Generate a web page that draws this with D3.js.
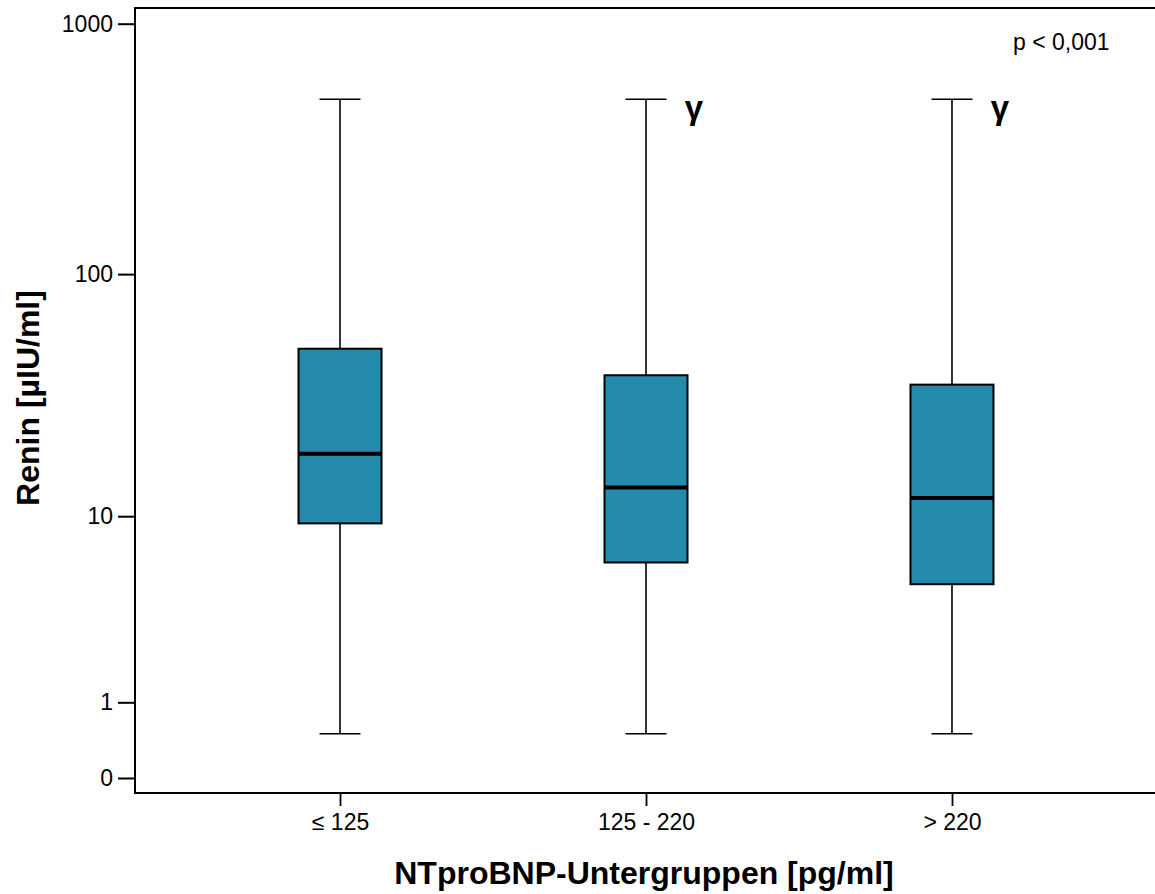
<!DOCTYPE html>
<html>
<head>
<meta charset="utf-8">
<script src="https://cdn.jsdelivr.net/npm/d3@7"></script>
<style>
body { margin: 0; background: #fff; }
text { font-family: "Liberation Sans", Arial, sans-serif; fill: #000; }
</style>
</head>
<body>
<svg></svg>
<script>
var screen = {width: 1155, height: 894};
var frame = {top: 8, right: 1157, bottom: 793, left: 135};

// data
var groups = ["≤ 125", "125 - 220", "> 220"];
var whiskerLow = [0.5, 0.5, 0.5];
var q1 = [9.3, 6.2, 4.9];
var median = [18.5, 13.3, 12.0];
var q3 = [50, 39, 35.7];
var whiskerHigh = [500, 500, 500];
var marks = ["", "γ", "γ"];
var yTicks = [0, 1, 10, 100, 1000];

var svg = d3.select("svg")
    .attr("width", screen.width)
    .attr("height", screen.height);

var xScale = d3.scalePoint()
    .domain(groups)
    .range([frame.left, frame.right])
    .padding(0.67);

var yScale = d3.scaleSymlog()
    .constant(1)
    .domain([0, 1000])
    .range([778, 23.7]);

var boxes = groups.map(function(g, i)
{
    return {g: g, lo: whiskerLow[i], q1: q1[i], med: median[i], q3: q3[i], hi: whiskerHigh[i], mark: marks[i]};
});

var boxWidth = 83;
var capWidth = 41;

// axes
var xAxis = d3.axisBottom(xScale).tickSize(13).tickSizeOuter(0).tickPadding(8);
var yAxis = d3.axisLeft(yScale).tickValues(yTicks).tickFormat(d3.format("d")).tickSize(17).tickSizeOuter(0).tickPadding(5);

var gx = svg.append("g")
    .attr("transform", "translate(0," + frame.bottom + ")")
    .call(xAxis);
gx.select(".domain").remove();
gx.selectAll("line").attr("stroke", "#000").attr("stroke-width", 1.8);
gx.selectAll("text").attr("font-size", 23).attr("font-family", "Liberation Sans, Arial, sans-serif").attr("fill", "#000");

var gy = svg.append("g")
    .attr("transform", "translate(" + frame.left + ",0)")
    .call(yAxis);
gy.select(".domain").remove();
gy.selectAll("line").attr("stroke", "#000").attr("stroke-width", 2);
gy.selectAll("text").attr("font-size", 23).attr("font-family", "Liberation Sans, Arial, sans-serif").attr("fill", "#000");

// frame
svg.append("rect")
    .attr("x", frame.left)
    .attr("y", frame.top)
    .attr("width", frame.right - frame.left)
    .attr("height", frame.bottom - frame.top)
    .attr("fill", "none")
    .attr("stroke", "#000")
    .attr("stroke-width", 2);

var bx = svg.append("g").selectAll("g")
    .data(boxes)
    .enter()
    .append("g");

// whiskers
bx.append("line")
    .attr("x1", function(d){return xScale(d.g);})
    .attr("x2", function(d){return xScale(d.g);})
    .attr("y1", function(d){return yScale(d.hi);})
    .attr("y2", function(d){return yScale(d.lo);})
    .attr("stroke", "#000")
    .attr("stroke-width", 1.6);

bx.selectAll(".cap")
    .data(function(d){return [{g: d.g, v: d.hi}, {g: d.g, v: d.lo}];})
    .enter()
    .append("line")
    .attr("class", "cap")
    .attr("x1", function(d){return xScale(d.g) - capWidth / 2;})
    .attr("x2", function(d){return xScale(d.g) + capWidth / 2;})
    .attr("y1", function(d){return yScale(d.v);})
    .attr("y2", function(d){return yScale(d.v);})
    .attr("stroke", "#000")
    .attr("stroke-width", 1.6);

// boxes
bx.append("rect")
    .attr("x", function(d){return xScale(d.g) - boxWidth / 2;})
    .attr("y", function(d){return yScale(d.q3);})
    .attr("width", boxWidth)
    .attr("height", function(d){return yScale(d.q1) - yScale(d.q3);})
    .attr("fill", "#248bac")
    .attr("stroke", "#000")
    .attr("stroke-width", 2);

bx.append("line")
    .attr("x1", function(d){return xScale(d.g) - boxWidth / 2;})
    .attr("x2", function(d){return xScale(d.g) + boxWidth / 2;})
    .attr("y1", function(d){return yScale(d.med);})
    .attr("y2", function(d){return yScale(d.med);})
    .attr("stroke", "#000")
    .attr("stroke-width", 4);

bx.append("text")
    .attr("x", function(d){return xScale(d.g) + 48;})
    .attr("y", function(d){return yScale(d.hi) + 20;})
    .attr("text-anchor", "middle")
    .attr("font-size", 33)
    .attr("font-weight", "bold")
    .text(function(d){return d.mark;});

// annotation and titles
svg.append("text")
    .attr("x", 1013)
    .attr("y", 50)
    .attr("font-size", 23)
    .text("p < 0,001");

svg.append("text")
    .attr("x", 644)
    .attr("y", 884)
    .attr("text-anchor", "middle")
    .attr("font-size", 32)
    .attr("font-weight", "bold")
    .text("NTproBNP-Untergruppen [pg/ml]");

svg.append("text")
    .attr("transform", "translate(39,398) rotate(-90)")
    .attr("text-anchor", "middle")
    .attr("font-size", 32)
    .attr("font-weight", "bold")
    .text("Renin [µIU/ml]");
</script>
</body>
</html>
